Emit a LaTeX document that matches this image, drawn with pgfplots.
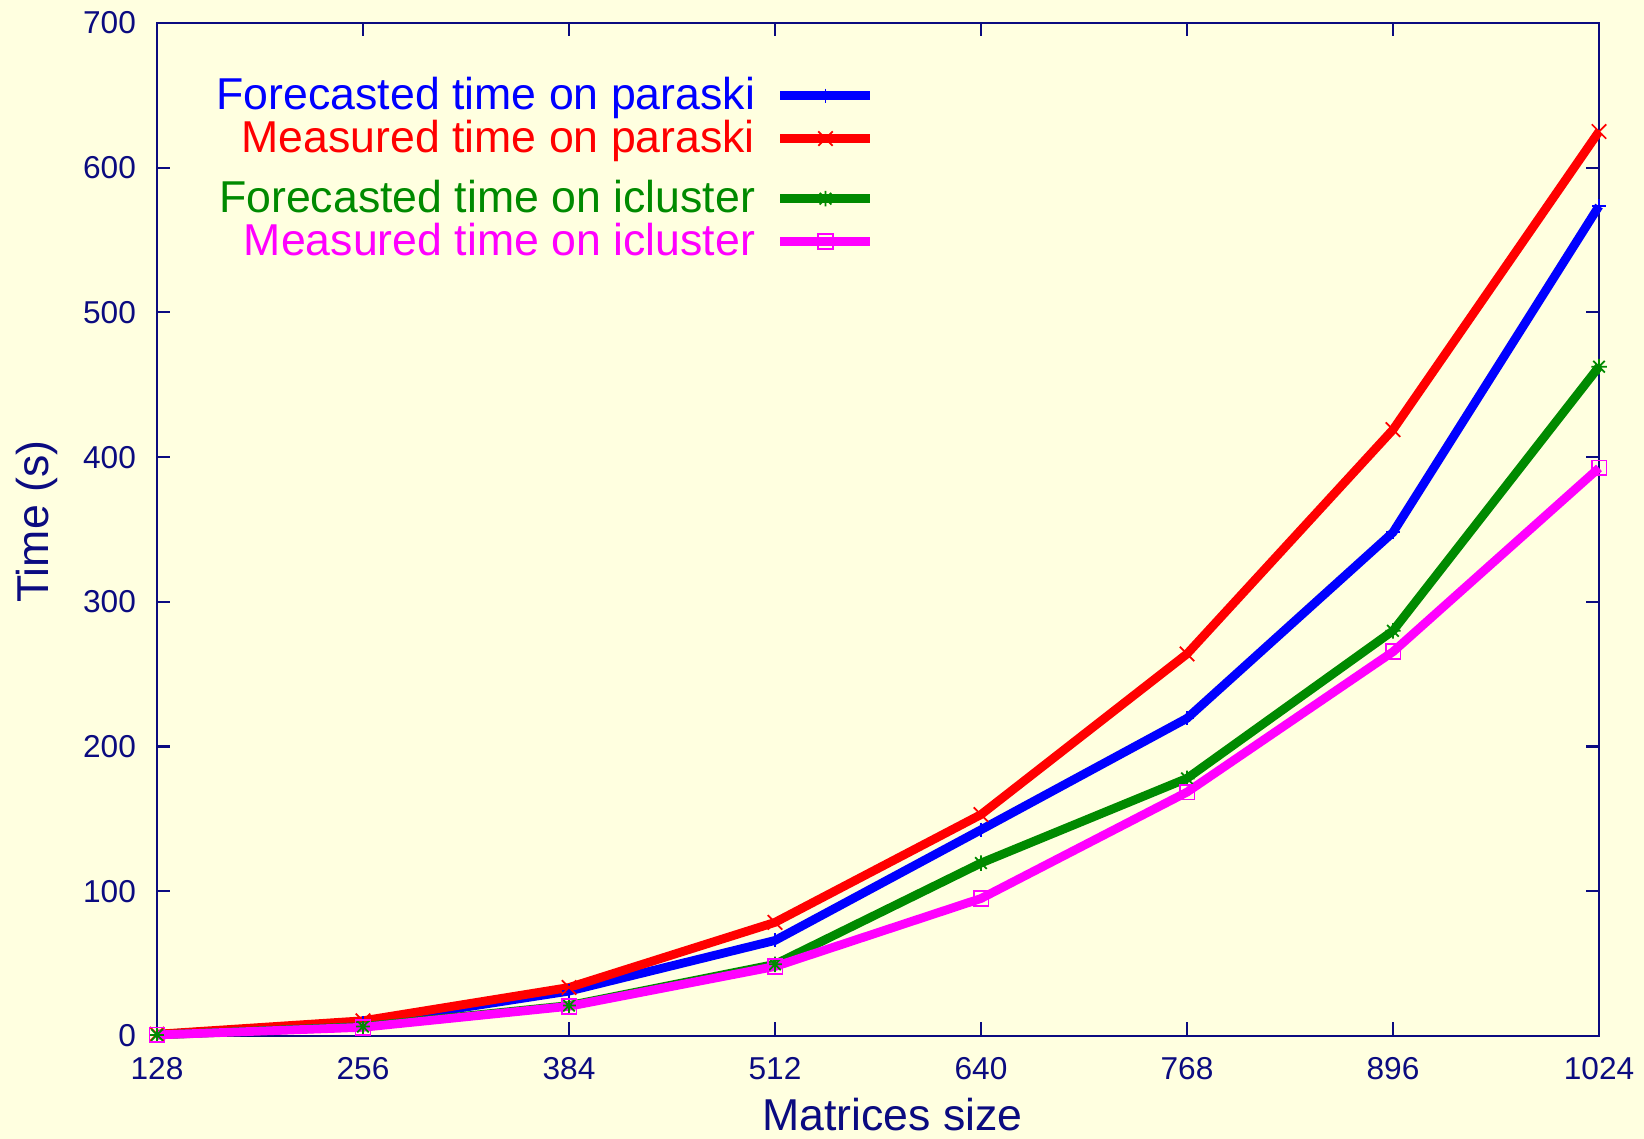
\documentclass[border=0pt]{standalone}
\usepackage{fontspec}
\setmainfont{Liberation Sans}
\usepackage{pgfplots}
\pgfplotsset{compat=1.18}
\usetikzlibrary{backgrounds,calc}
\definecolor{bgyellow}{HTML}{FFFFE0}
\definecolor{navyax}{HTML}{0B0B80}
\definecolor{gpblue}{HTML}{0000FF}
\definecolor{gpred}{HTML}{FF0000}
\definecolor{gpgreen}{HTML}{008A00}
\definecolor{gpmag}{HTML}{FF00FF}

% gnuplot style star: + and x together
\pgfdeclareplotmark{gpstar}{%
  \pgfpathmoveto{\pgfqpoint{-\pgfplotmarksize}{0pt}}\pgfpathlineto{\pgfqpoint{\pgfplotmarksize}{0pt}}%
  \pgfpathmoveto{\pgfqpoint{0pt}{-\pgfplotmarksize}}\pgfpathlineto{\pgfqpoint{0pt}{\pgfplotmarksize}}%
  \pgfpathmoveto{\pgfqpoint{-.75\pgfplotmarksize}{-.75\pgfplotmarksize}}\pgfpathlineto{\pgfqpoint{.75\pgfplotmarksize}{.75\pgfplotmarksize}}%
  \pgfpathmoveto{\pgfqpoint{-.75\pgfplotmarksize}{.75\pgfplotmarksize}}\pgfpathlineto{\pgfqpoint{.75\pgfplotmarksize}{-.75\pgfplotmarksize}}%
  \pgfusepathqstroke}

\pgfplotsset{
  gpbase/.style={
    scale only axis,
    width=14.42cm, height=10.13cm,
    xmin=128, xmax=1024, ymin=0, ymax=700,
    clip=false,
    every axis plot/.append style={line width=2.5pt},
    mark options={solid, line width=0.5pt},
    legend plot pos=right,
    legend cell align=right,
    legend image code/.code={%
      \draw[mark repeat=2, mark phase=2, ##1] plot coordinates {(0cm,0.7pt) (0.45cm,0.7pt) (0.895cm,0.7pt)};},
    legend style={anchor=north east, draw=none, fill=none,
        inner sep=0pt, outer sep=0pt, row sep=0pt, column sep=6pt,
        font=\fontsize{12.7}{14}\selectfont,
        nodes={inner sep=0pt, text height=9.3pt, text depth=2.9pt}},
  },
}

\begin{document}
\begin{tikzpicture}
\begin{axis}[
    gpbase,
    name=ax,
    xtick={128,256,...,1024},
    ytick={0,100,...,700},
    tick align=inside,
    major tick length=0.135cm,
    axis line style={navyax, line width=0.6pt},
    every tick/.style={navyax, line width=0.6pt},
    /pgf/number format/assume math mode=true,
    /pgf/number format/1000 sep={},
    scaled ticks=false,
    xticklabel style={font=\fontsize{9}{10}\selectfont, text=navyax, inner sep=0pt, yshift=-6pt},
    yticklabel style={font=\fontsize{9}{10}\selectfont, text=navyax, inner sep=0pt, xshift=-5.8pt},
    xlabel={Matrices size},
    ylabel={Time (s)},
    every axis x label/.style={at={(rel axis cs:0.510,-0.0938)}, anchor=base, font=\fontsize{12.7}{14}\selectfont, text=navyax},
    every axis y label/.style={at={(rel axis cs:-0.0834,0.5077)}, rotate=90, anchor=center, font=\fontsize{12.7}{14}\selectfont, text=navyax},
    legend style={at={(rel axis cs:0.4975,0.947)}},
]
\addplot[gpblue, mark=+, mark size=2pt] coordinates {
    (128,1) (256,9) (384,31) (512,66) (640,142.5) (768,219.5) (896,348) (1024,573.5)
};
\addlegendentry{\textcolor{gpblue}{Forecasted time on paraski}}
\addplot[gpred, mark=x, mark size=2.9pt] coordinates {
    (128,1.2) (256,10.5) (384,33.5) (512,78.5) (640,153) (768,264) (896,419) (1024,625)
};
\addlegendentry{\textcolor{gpred}{Measured time on paraski}}
\end{axis}
% second key block (icluster), drawn on top like the original
\begin{axis}[
    gpbase,
    at={(ax.south west)}, anchor=south west,
    hide axis,
    legend style={at={(rel axis cs:0.4975,0.8453)}},
]
\addplot[gpgreen, mark=gpstar, mark size=2.2pt] coordinates {
    (128,0.7) (256,6.5) (384,21) (512,49.5) (640,119.5) (768,178) (896,280) (1024,462.5)
};
\addlegendentry{\textcolor{gpgreen}{Forecasted time on icluster}}
\addplot[gpmag, mark=square, mark size=2.1pt] coordinates {
    (128,0.7) (256,6) (384,20.5) (512,48) (640,95) (768,168.5) (896,265.5) (1024,392.5)
};
\addlegendentry{\textcolor{gpmag}{Measured time on icluster}}
\end{axis}
\pgfresetboundingbox
\begin{scope}[on background layer]
  \fill[bgyellow] ($(ax.south west)+(-1.57cm,-1.03cm)$) rectangle ($(ax.north east)+(0.45cm,0.23cm)$);
\end{scope}
\path[use as bounding box] ($(ax.south west)+(-1.57cm,-1.03cm)$) rectangle ($(ax.north east)+(0.45cm,0.23cm)$);
\end{tikzpicture}
\end{document}
